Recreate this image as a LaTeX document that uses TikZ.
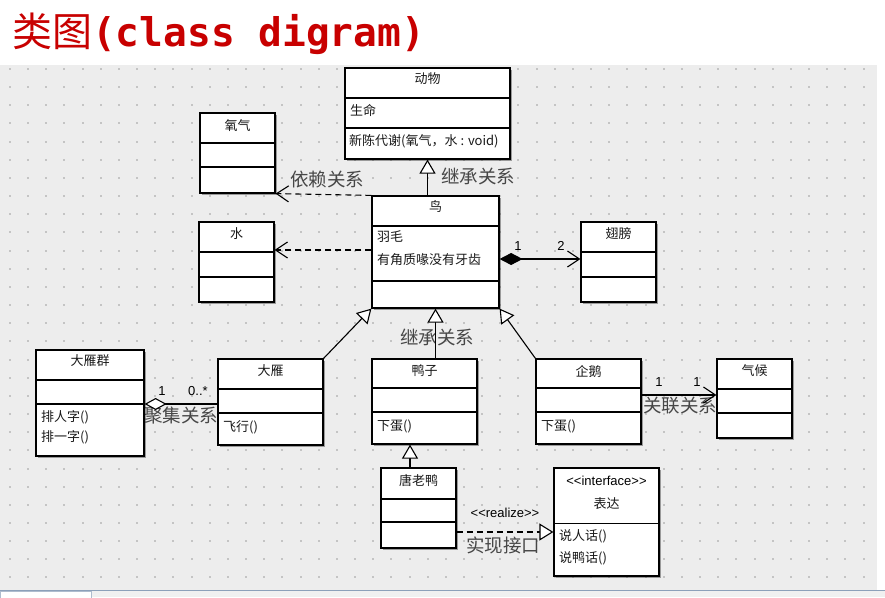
\documentclass[tikz,border=0pt]{standalone}
\usepackage{fontspec}
\setmainfont{Liberation Sans}
\newfontfamily\cjk{Noto Sans CJK SC}
\newfontfamily\titlemono{DejaVu Sans Mono}
\usetikzlibrary{arrows.meta,shadows}
\definecolor{titlered}{RGB}{200,0,0}
\definecolor{canvasgray}{RGB}{237,237,237}
\definecolor{dotgray}{RGB}{196,196,196}
\definecolor{barblue}{RGB}{140,160,185}

\begin{document}
\begin{tikzpicture}[x=1pt, y=-1pt,
    cls/.style={draw, fill=white, line width=1.2pt, inner sep=0,
        drop shadow={shadow xshift=1.5pt, shadow yshift=-1.5pt, opacity=0.35, fill=black}},
    div/.style={line width=1.2pt},
    ctext/.style={font=\cjk\fontsize{13}{15}\selectfont, inner sep=0, text=black!90},
    num/.style={font=\fontsize{13}{15}\selectfont, inner sep=0},
    rel/.style={font=\cjk\fontsize{18.5}{20}\selectfont, inner sep=0, text=black!72},
    link/.style={line width=1.1pt},
    dashlink/.style={link, dash pattern=on 6pt off 4pt},
    inherit/.style={link, -{Triangle[length=14pt, width=16pt, fill=white, line width=1.1pt]}},
    dep/.style={dashlink, -{Straight Barb[length=12pt, width=16pt]}},
    realize/.style={dashlink, -{Triangle[length=14pt, width=17pt, fill=white, line width=1.1pt]}},
    assoc/.style={link, -{Straight Barb[length=12pt, width=16pt]}},
    comp/.style={link, {Diamond[length=23pt, width=12pt]}-{Straight Barb[length=12pt, width=16pt]}},
    aggr/.style={link, {Diamond[length=22pt, width=12pt, fill=white, line width=1.1pt]}-}]
    \useasboundingbox (0, 0) rectangle (885, 597);

    %%canvas
    \fill[white] (0, 0) rectangle (885, 597);
    \fill[canvasgray] (0, 65) rectangle (877, 590);
    \foreach \i in {0,...,47}
        \foreach \j in {0,...,28}
            \fill[dotgray] (9+18.16*\i, 68+18.16*\j) rectangle +(2, 2);
    \fill[black!6] (0, 590) rectangle (885, 597);
    \draw[barblue, line width=1pt] (0, 590) to (885, 590);
    \draw[barblue!70, fill=white] (0.5, 597.5) to (0.5, 591) to (91, 591) to (91, 597.5);

    %%title
    \node[anchor=base west, inner sep=0, text=titlered] at(12, 46)(title){{\cjk\fontsize{40}{40}\selectfont 类图}{\titlemono\bfseries\fontsize{39.5}{40}\selectfont (class digram)}};

    %%relation labels
    \node[rel] at(327, 179)(deplabel){依赖关系};
    \node[rel] at(478, 176)(inhlabeltop){继承关系};
    \node[rel] at(437, 337)(inhlabel){继承关系};
    \node[rel] at(181, 416)(aggrlabel){聚集关系};
    \node[rel] at(680, 406)(assoclabel){关联关系};
    \node[rel] at(503, 545)(realizelabel){实现接口};

    %%classes
    \node[cls, minimum width=165, minimum height=91] at(427.5, 113.5)(animal){};
    \draw[div] (345, 98) to (510, 98);
    \draw[div] (345, 128) to (510, 128);
    \node[ctext] at(427.5, 79)(animalname){动物};
    \node[ctext, anchor=west] at(350, 110)(animalattr){生命};
    \node[ctext, anchor=west] at(349, 141)(animalop){新陈代谢(氧气，水 : void)};

    \node[cls, minimum width=75, minimum height=80] at(237.5, 153)(oxygen){};
    \draw[div] (200, 143) to (275, 143);
    \draw[div] (200, 167) to (275, 167);
    \node[ctext] at(237.5, 126)(oxygenname){氧气};

    \node[cls, minimum width=127, minimum height=112] at(435.5, 252)(bird){};
    \draw[div] (372, 226) to (499, 226);
    \draw[div] (372, 281) to (499, 281);
    \node[ctext] at(435.5, 207)(birdname){鸟};
    \node[ctext, anchor=west] at(377, 237)(birdattra){羽毛};
    \node[ctext, anchor=west] at(377, 260)(birdattrb){有角质喙没有牙齿};

    \node[cls, minimum width=75, minimum height=80] at(236.5, 262)(water){};
    \draw[div] (199, 252) to (274, 252);
    \draw[div] (199, 277) to (274, 277);
    \node[ctext] at(236.5, 234)(watername){水};

    \node[cls, minimum width=75, minimum height=80] at(618.5, 262)(wing){};
    \draw[div] (581, 252) to (656, 252);
    \draw[div] (581, 277) to (656, 277);
    \node[ctext] at(618.5, 234)(wingname){翅膀};

    \node[cls, minimum width=108, minimum height=106] at(90, 403)(flock){};
    \draw[div] (36, 380) to (144, 380);
    \draw[div] (36, 404) to (144, 404);
    \node[ctext] at(90, 361)(flockname){大雁群};
    \node[ctext, anchor=west] at(41, 417)(flockopa){排人字()};
    \node[ctext, anchor=west] at(41, 437)(flockopb){排一字()};

    \node[cls, minimum width=105, minimum height=86] at(270.5, 402)(goose){};
    \draw[div] (218, 389) to (323, 389);
    \draw[div] (218, 413) to (323, 413);
    \node[ctext] at(270.5, 371)(goosename){大雁};
    \node[ctext, anchor=west] at(223, 427)(gooseop){飞行()};

    \node[cls, minimum width=105, minimum height=85] at(424.5, 401.5)(duck){};
    \draw[div] (372, 388) to (477, 388);
    \draw[div] (372, 412) to (477, 412);
    \node[ctext] at(424.5, 371)(duckname){鸭子};
    \node[ctext, anchor=west] at(377, 426)(duckop){下蛋()};

    \node[cls, minimum width=105, minimum height=85] at(588.5, 401.5)(penguin){};
    \draw[div] (536, 388) to (641, 388);
    \draw[div] (536, 412) to (641, 412);
    \node[ctext] at(588.5, 371)(penguinname){企鹅};
    \node[ctext, anchor=west] at(541, 426)(penguinop){下蛋()};

    \node[cls, minimum width=75, minimum height=79] at(754.5, 398.5)(climate){};
    \draw[div] (717, 389) to (792, 389);
    \draw[div] (717, 413) to (792, 413);
    \node[ctext] at(754.5, 371)(climatename){气候};

    \node[cls, minimum width=75, minimum height=80] at(418.5, 508)(donald){};
    \draw[div] (381, 499) to (456, 499);
    \draw[div] (381, 522) to (456, 522);
    \node[ctext] at(418.5, 480)(donaldname){唐老鸭};

    \node[cls, minimum width=105, minimum height=108] at(606.5, 522)(speak){};
    \draw[line width=0.6pt] (554, 523) to (659, 523);
    \node[font=\fontsize{13}{15}\selectfont, inner sep=0] at(606.5, 481)(speakstereo){<{}<interface>{}>};
    \node[ctext] at(606.5, 504)(speakname){表达};
    \node[ctext, anchor=west] at(559, 536)(speakopa){说人话()};
    \node[ctext, anchor=west] at(559, 558)(speakopb){说鸭话()};

    %%inheritance
    \draw[inherit] (bird.north -| animal.south) to (animal.south);
    \draw[inherit] (goose.north east) to (bird.south west);
    \draw[inherit] (duck.north -| bird.south) to (bird.south);
    \draw[inherit] (penguin.north west) to (bird.south east);
    \draw[inherit] ([xshift=-8.5pt]donald.north) to ([xshift=-8.5pt]donald.north |- duck.south);

    %%dependency
    \draw[dep] (bird.north west) to (oxygen.south east);
    \draw[dep] (bird.west |- 0, 250) to (water.east |- 0, 250);

    %%composition
    \draw[comp] (bird.east |- 0, 259) to (wing.west |- 0, 259);
    \node[num] at(518, 246)(compa){1};
    \node[num] at(561, 246)(compb){2};

    %%aggregation
    \draw[aggr] (flock.east |- 0, 404) to (goose.west |- 0, 404);
    \node[num] at(162, 391)(aggra){1};
    \node[num] at(198, 391)(aggrb){0..*};

    %%association
    \draw[assoc] (penguin.east |- 0, 395) to (climate.west |- 0, 395);
    \node[num] at(659, 382)(assoca){1};
    \node[num] at(697, 382)(assocb){1};

    %%realize
    \draw[realize] (donald.east |- 0, 532) to (speak.west |- 0, 532);
    \node[font=\fontsize{13}{15}\selectfont, inner sep=0] at(505, 513)(realizestereo){<{}<realize>{}>};
\end{tikzpicture}
\end{document}
